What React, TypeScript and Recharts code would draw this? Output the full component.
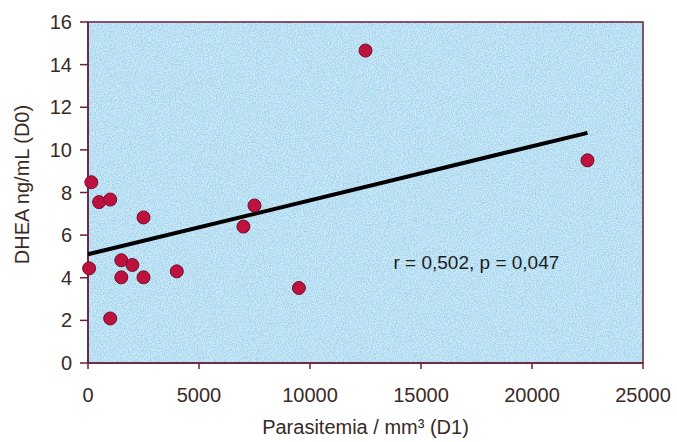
import { ScatterChart, Scatter, XAxis, YAxis, ReferenceArea, ReferenceDot, Label } from 'recharts';

// parasitemia (D1) vs DHEA (D0), one entry per patient
const parasitemia = [150, 500, 1000, 2500, 50, 1500, 2000, 1500, 2500, 4000, 1000, 7000, 7500, 12500, 22500, 9500];
const dhea = [8.48, 7.55, 7.67, 6.83, 4.44, 4.82, 4.6, 4.02, 4.02, 4.3, 2.09, 6.4, 7.39, 14.66, 9.51, 3.52];

// regression line end points
const trendX = [0, 22500];
const trendY = [5.1, 10.8];

const xTicks = [0, 5000, 10000, 15000, 20000, 25000];
const yTicks = [0, 2, 4, 6, 8, 10, 12, 14, 16];

const points = parasitemia.map((x, i) => ({ x, y: dhea[i] }));
const trend = trendX.map((x, i) => ({ x, y: trendY[i] }));

const AXIS = '#6b1f3a';
const TEXT = '#3b2a1f';
const FONT = '"Liberation Sans", Arial, sans-serif';

const Dot = (props: any) => (
  <circle cx={props.cx} cy={props.cy} r={6.5} fill="#bd1240" stroke="#760e2a" strokeWidth={1} />
);

const Backdrop = (props: any) => {
  const { x, y, width, height } = props;
  return (
    <g>
      <defs>
        <filter id="speckle" x="0" y="0" width="100%" height="100%">
          <feTurbulence type="fractalNoise" baseFrequency="0.85" numOctaves="2" seed="3" />
          <feColorMatrix
            type="matrix"
            values="0 0 0 0 0.36  0 0 0 0 0.67  0 0 0 0 0.87  2.8 0 0 0 -0.95"
          />
        </filter>
      </defs>
      <rect x={x} y={y} width={width} height={height} fill="#d0e9f6" />
      <rect x={x} y={y} width={width} height={height} filter="url(#speckle)" />
      <rect x={x} y={y} width={width} height={height} fill="none" stroke={AXIS} strokeWidth={1.5} />
    </g>
  );
};

const YTitle = (props: any) => {
  const vb = props.viewBox;
  const cx = vb.x + 22;
  const cy = vb.y + vb.height / 2 - 8;
  return (
    <text
      x={cx}
      y={cy}
      transform={`rotate(-90, ${cx}, ${cy})`}
      textAnchor="middle"
      dominantBaseline="central"
      fill={TEXT}
      fontSize={20}
      fontFamily={FONT}
    >
      DHEA ng/mL (D0)
    </text>
  );
};

export default function App() {
  return (
    <div style={{ position: 'absolute', left: 0, top: 0, width: 677, height: 442, background: '#fff' }}>
      <ScatterChart width={677} height={442} margin={{ top: 22, right: 34, bottom: 0, left: 0 }}>
        <XAxis
          type="number"
          dataKey="x"
          domain={[0, 25000]}
          ticks={xTicks}
          height={79}
          stroke={AXIS}
          strokeWidth={1.5}
          tickSize={6}
          tickMargin={19}
          tick={{ fill: TEXT, fontSize: 20, fontFamily: FONT }}
        >
          <Label
            value="Parasitemia / mm³ (D1)"
            position="insideBottom"
            offset={8}
            fill={TEXT}
            fontSize={20}
            fontFamily={FONT}
          />
        </XAxis>
        <YAxis
          type="number"
          dataKey="y"
          domain={[0, 16]}
          ticks={yTicks}
          width={88}
          stroke={AXIS}
          strokeWidth={1.5}
          tickSize={8}
          tickMargin={8}
          tick={{ fill: TEXT, fontSize: 20, fontFamily: FONT }}
        >
          <Label content={YTitle} />
        </YAxis>
        <ReferenceArea x1={0} x2={25000} y1={0} y2={16} shape={Backdrop} />
        <Scatter
          data={trend}
          line={{ stroke: '#000', strokeWidth: 4 }}
          shape={() => <g />}
          isAnimationActive={false}
        />
        <Scatter data={points} shape={Dot} isAnimationActive={false} />
        <ReferenceDot
          x={13760}
          y={4.74}
          r={0}
          fill="none"
          stroke="none"
          label={{
            value: 'r = 0,502, p = 0,047',
            position: 'right',
            offset: 0,
            fill: '#1e1e1e',
            fontSize: 19,
            fontFamily: FONT,
          }}
        />
      </ScatterChart>
    </div>
  );
}
